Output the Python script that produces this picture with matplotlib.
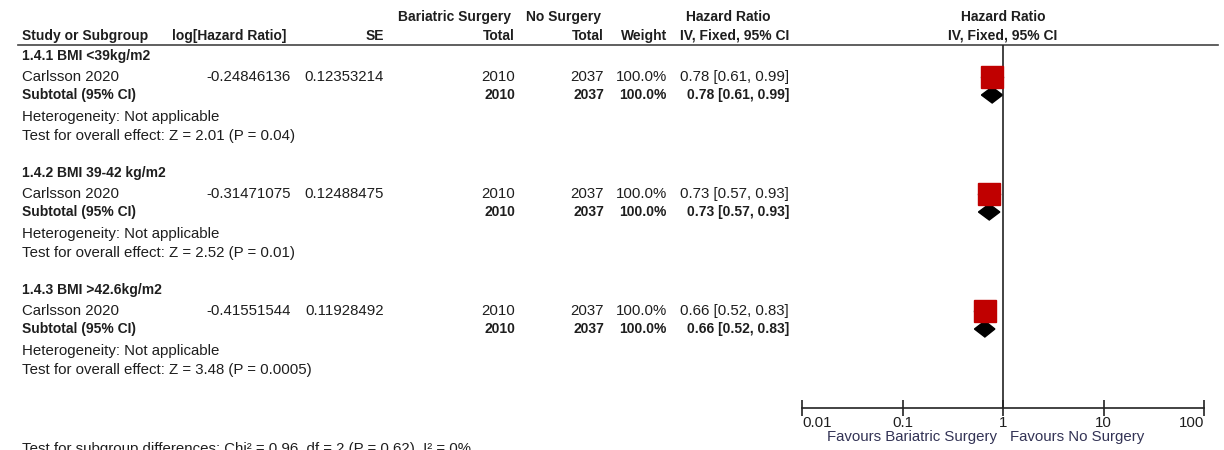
import numpy as np
import matplotlib.pyplot as plt
from matplotlib.ticker import FixedLocator, NullLocator

plt.rcParams['font.family'] = ['Liberation Sans', 'DejaVu Sans']

# data
groups = ['1.4.1 BMI <39kg/m2', '1.4.2 BMI 39-42 kg/m2', '1.4.3 BMI >42.6kg/m2']
studies = ['Carlsson 2020', 'Carlsson 2020', 'Carlsson 2020']
log_hr = ['-0.24846136', '-0.31471075', '-0.41551544']
se = ['0.12353214', '0.12488475', '0.11928492']
n_surgery = [2010, 2010, 2010]
n_none = [2037, 2037, 2037]
weight = [100.0, 100.0, 100.0]
hr = [0.78, 0.73, 0.66]
ci_lo = [0.61, 0.57, 0.52]
ci_hi = [0.99, 0.93, 0.83]
z_val = ['2.01', '2.52', '3.48']
p_val = ['0.04', '0.01', '0.0005']
ticks = [0.01, 0.1, 1, 10, 100]
tick_labels = ['0.01', '0.1', '1', '10', '100']

W, H = 1224, 450
fig = plt.figure(figsize=(W / 100, H / 100), dpi=100)
tc = '#1e1e1e'
fs_reg, fs_bold = 10.8, 10.0

# background axes in pixel units for the table text
bg = fig.add_axes([0, 0, 1, 1])
bg.set_xlim(0, W)
bg.set_ylim(H, 0)
bg.axis('off')

def txt(x, y, s, ha='left', bold=False):
    bg.text(x, y, s, ha=ha, va='center', fontsize=fs_bold if bold else fs_reg,
            color=tc, fontweight='bold' if bold else 'normal')

# header
txt(454, 17, 'Bariatric Surgery', ha='center', bold=True)
txt(563, 17, 'No Surgery', ha='center', bold=True)
txt(728, 17, 'Hazard Ratio', ha='center', bold=True)
txt(1003, 17, 'Hazard Ratio', ha='center', bold=True)
txt(22, 36, 'Study or Subgroup', bold=True)
txt(172, 36, 'log[Hazard Ratio]', bold=True)
txt(384, 36, 'SE', ha='right', bold=True)
txt(515, 36, 'Total', ha='right', bold=True)
txt(604, 36, 'Total', ha='right', bold=True)
txt(667, 36, 'Weight', ha='right', bold=True)
txt(735, 36, 'IV, Fixed, 95% CI', ha='center', bold=True)
txt(1003, 36, 'IV, Fixed, 95% CI', ha='center', bold=True)
bg.plot([18, 1218], [45, 45], color='#444444', lw=1.2)

row0 = [56, 173, 290]
study_rows = []
sub_rows = []
for i, g in enumerate(groups):
    y = row0[i]
    txt(22, y, g, bold=True)
    y1 = y + 21
    txt(22, y1, studies[i])
    txt(291, y1, log_hr[i], ha='right')
    txt(384, y1, se[i], ha='right')
    txt(515, y1, str(n_surgery[i]), ha='right')
    txt(604, y1, str(n_none[i]), ha='right')
    txt(667, y1, f'{weight[i]:.1f}%', ha='right')
    txt(789, y1, f'{hr[i]:.2f} [{ci_lo[i]:.2f}, {ci_hi[i]:.2f}]', ha='right')
    y2 = y + 39
    txt(22, y2, 'Subtotal (95% CI)', bold=True)
    txt(515, y2, str(n_surgery[i]), ha='right', bold=True)
    txt(604, y2, str(n_none[i]), ha='right', bold=True)
    txt(667, y2, f'{weight[i]:.1f}%', ha='right', bold=True)
    txt(789, y2, f'{hr[i]:.2f} [{ci_lo[i]:.2f}, {ci_hi[i]:.2f}]', ha='right', bold=True)
    txt(22, y + 61, 'Heterogeneity: Not applicable')
    txt(22, y + 80, f'Test for overall effect: Z = {z_val[i]} (P = {p_val[i]})')
    study_rows.append(y1)
    sub_rows.append(y2)

txt(22, 449, 'Test for subgroup differences: Chi² = 0.96, df = 2 (P = 0.62), I² = 0%')

# forest plot axes
x0, x1, ytop, ybot = 802, 1204, 45, 408
ax = fig.add_axes([x0 / W, (H - ybot) / H, (x1 - x0) / W, (ybot - ytop) / H])
ax.set_xscale('log')
ax.set_xlim(0.01, 100)
ax.set_ylim(ybot, ytop)
ax.patch.set_alpha(0)
for s in ['top', 'left', 'right']:
    ax.spines[s].set_visible(False)
ax.spines['bottom'].set_color('#222222')
ax.spines['bottom'].set_linewidth(1.2)
ax.axvline(1, color='#222222', lw=1.2)
ax.yaxis.set_major_locator(NullLocator())
ax.xaxis.set_major_locator(FixedLocator(ticks))
ax.xaxis.set_minor_locator(NullLocator())
ax.set_xticklabels(tick_labels)
ax.tick_params(axis='x', direction='inout', length=12, width=1.2, color='#222222',
               labelsize=fs_reg, labelcolor=tc, pad=0)
lbls = ax.get_xticklabels()
lbls[0].set_ha('left')
lbls[-1].set_ha('right')

for i in range(len(groups)):
    ax.plot([ci_lo[i], ci_hi[i]], [study_rows[i]] * 2, color='#222222', lw=1)
    ax.plot(hr[i], study_rows[i], marker='s', ms=16, color='#C00000', mec='#C00000')
    ax.fill([ci_lo[i], hr[i], ci_hi[i], hr[i]],
            [sub_rows[i], sub_rows[i] - 8, sub_rows[i], sub_rows[i] + 8],
            color='black')

bg.text(997, 437, 'Favours Bariatric Surgery', ha='right', va='center', fontsize=fs_reg, color='#333355')
bg.text(1010, 437, 'Favours No Surgery', ha='left', va='center', fontsize=fs_reg, color='#333355')

fig.savefig('out.png', dpi=100)
